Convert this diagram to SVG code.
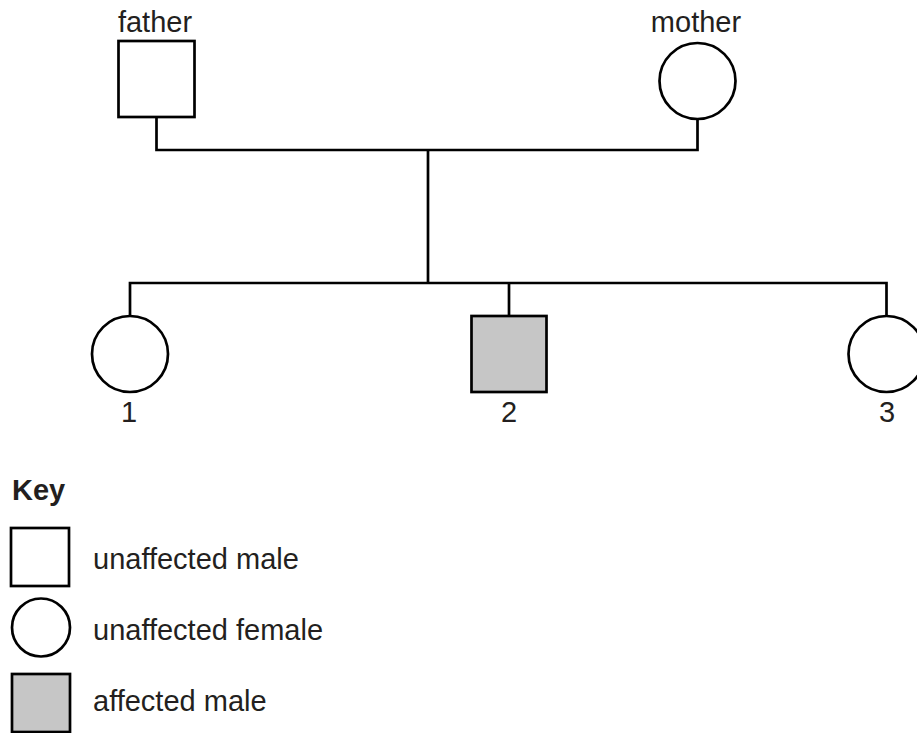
<svg xmlns="http://www.w3.org/2000/svg" width="917" height="733" viewBox="0 0 917 733">
<style>
.sym{fill:#fff;stroke:#000;stroke-width:2.7}
.aff{fill:#c6c6c6;stroke:#000;stroke-width:2.7}
.ln{fill:none;stroke:#000;stroke-width:2.7}
text{font-family:"Liberation Sans",Arial,Helvetica,sans-serif;font-size:29px;fill:#231f20}
.mid{text-anchor:middle}
.b{font-weight:bold}
</style>
<rect width="917" height="733" fill="#fff"/>
<g id="connectors">
<polyline class="ln" points="156.5,117 156.5,150 697.5,150 697.5,119"/>
<line class="ln" x1="428" y1="150" x2="428" y2="283"/>
<polyline class="ln" points="130,316 130,283 886.5,283 886.5,316"/>
<line class="ln" x1="509" y1="283" x2="509" y2="316"/>
</g>
<g id="father">
<text x="155" y="32" class="mid">father</text>
<rect class="sym" x="118.5" y="41" width="76" height="76"/>
</g>
<g id="mother">
<text x="696" y="32" class="mid">mother</text>
<circle class="sym" cx="697.5" cy="81" r="38"/>
</g>
<g id="child1">
<circle class="sym" cx="130" cy="354" r="38"/>
<text x="129" y="422" class="mid">1</text>
</g>
<g id="child2">
<rect class="aff" x="471.5" y="316" width="75" height="76"/>
<text x="509" y="422" class="mid">2</text>
</g>
<g id="child3">
<circle class="sym" cx="886.5" cy="354" r="38"/>
<text x="887" y="422" class="mid">3</text>
</g>
<g id="key">
<text x="12" y="500" class="b">Key</text>
<rect class="sym" x="11" y="528" width="58" height="58"/>
<text x="93" y="569">unaffected male</text>
<circle class="sym" cx="41" cy="627.5" r="29"/>
<text x="93" y="640">unaffected female</text>
<rect class="aff" x="12" y="674" width="58" height="58"/>
<text x="93" y="711">affected male</text>
</g>
</svg>
